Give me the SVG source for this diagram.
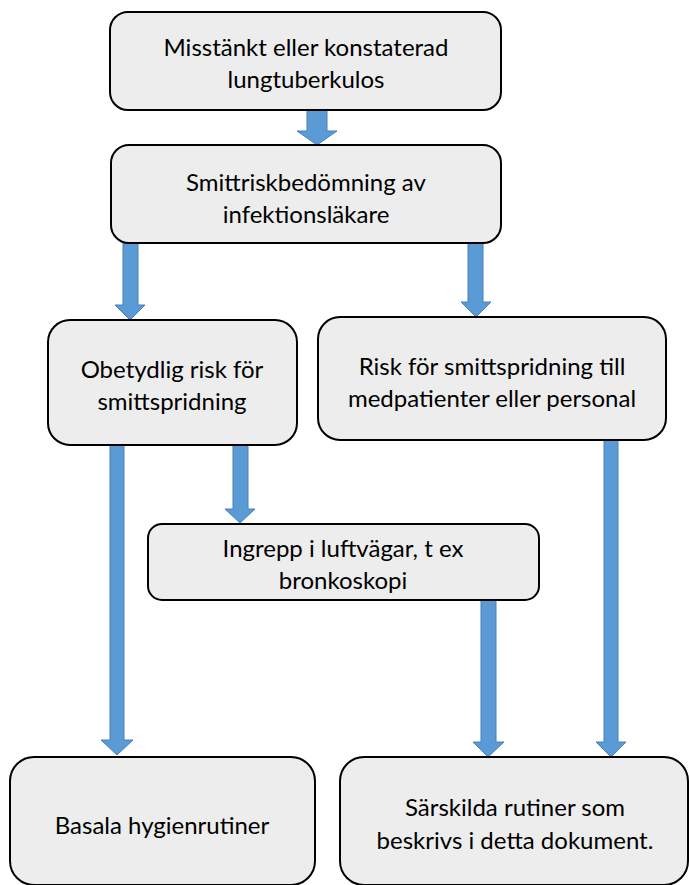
<svg xmlns="http://www.w3.org/2000/svg" width="689" height="885" viewBox="0 0 689 885">
<style>
.box{fill:#EDEDED;stroke:#000;stroke-width:2}
.arr{fill:#5B9BD5;stroke:#4A7EBB;stroke-width:1}
text{font-family:Lato,"Open Sans","Liberation Sans",sans-serif;font-size:24px;fill:#000;text-anchor:middle}
</style>
<rect width="689" height="885" fill="#fff"/>
<g id="connectors">
<polygon class="arr" points="307,110 327,110 327,131 337,131 317,145 297,131 307,131"/>
<polygon class="arr" points="123,243 138,243 138,305 145,305 130,320 115,305 123,305"/>
<polygon class="arr" points="468,243 483,243 483,302 491,302 476,317 461,302 468,302"/>
<polygon class="arr" points="233,445 248,445 248,509 255,509 240,523 225,509 233,509"/>
<polygon class="arr" points="110,445 124,445 124,740 133,740 117,755 101,740 110,740"/>
<polygon class="arr" points="481,600 496,600 496,742 504,742 488,757 473,742 481,742"/>
<polygon class="arr" points="604,440 618,440 618,742 626,742 611,757 596,742 604,742"/>
</g>
<g id="n1"><rect class="box" x="110" y="12" width="391" height="98" rx="18"/>
<text x="306" y="56">Misstänkt eller konstaterad</text><text x="306" y="88">lungtuberkulos</text></g>
<g id="n2"><rect class="box" x="111" y="145" width="390" height="98" rx="18"/>
<text x="306" y="191">Smittriskbedömning av</text><text x="306" y="223">infektionsläkare</text></g>
<g id="n3"><rect class="box" x="48" y="320" width="249" height="125" rx="22"/>
<text x="172" y="378">Obetydlig risk för</text><text x="172" y="410">smittspridning</text></g>
<g id="n4"><rect class="box" x="318" y="317" width="348" height="123" rx="22"/>
<text x="492" y="375">Risk för smittspridning till</text><text x="492" y="407">medpatienter eller personal</text></g>
<g id="n5"><rect class="box" x="148" y="524" width="391" height="76" rx="14"/>
<text x="343" y="557">Ingrepp i luftvägar, t ex</text><text x="343" y="589">bronkoskopi</text></g>
<g id="n6"><rect class="box" x="10" y="757" width="305" height="128" rx="24"/>
<text x="162" y="834">Basala hygienrutiner</text></g>
<g id="n7"><rect class="box" x="340" y="757" width="348" height="128" rx="24"/>
<text x="515" y="816">Särskilda rutiner som</text><text x="515" y="849">beskrivs i detta dokument.</text></g>
</svg>
